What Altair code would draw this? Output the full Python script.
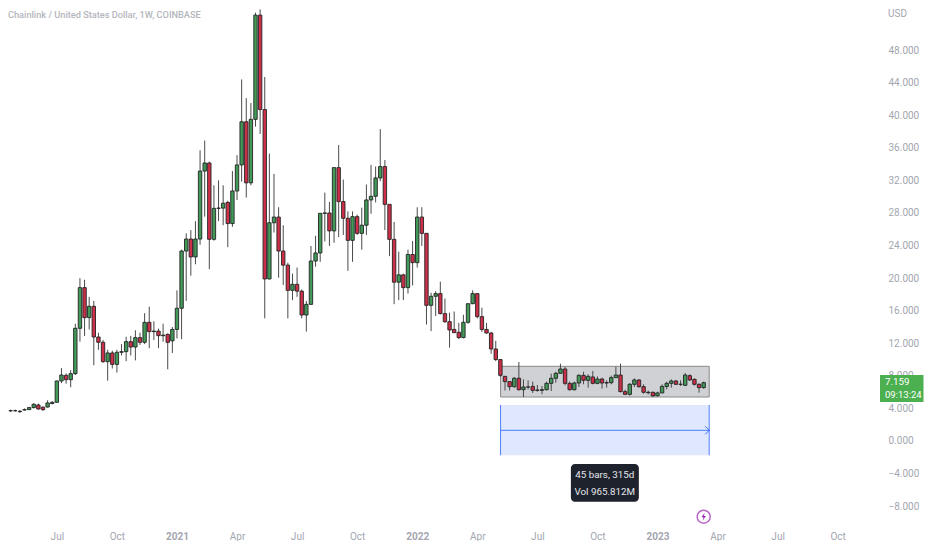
import altair as alt
import pandas as pd

# Weekly candles, weeks counted from the first visible bar (week 0 = 2020-04-27)
first_week = pd.Timestamp("2020-04-27")
opens = [3.7,3.72,3.6,3.8,3.85,4.1,4.42,4.15,4.17,4.6,
4.75,7.37,8.06,7.53,8.27,13.84,18.83,15.15,16.54,12.77,12.12,9.74,10.81,9.41,10.89,10.97,12.2,11.54,12.69,12.12,14.57,13.43,13.5,12.93,13.1,12.3,13.7,
16.3,23.33,24.8,22.6,24.8,33.15,34.14,24.77,28.57,28.6,29.3,26.7,30.7,33.9,39.2,31.7,39.5,52.3,40.7,19.9,26.8,27.5,23.33,21.6,18.5,19.24,18.4,15.47,16.78,22.1,23.09,27.96,28,25.8,33.57,
29.4,27.35,24.64,27.55,25.5,26.5,29.6,30.05,32.3,33.7,29.06,24.76,19.5,20.4,18.83,22.9,21.9,27.5,25.5,16.66,17.77,18.1,15.64,14.65,13.7,13.35,12.7,14.57,16.86,18.1,15.27,13.7,13.26,11.3,10.0,
7.94,7.29,6.67,7.7,6.3,6.63,6.7,6.26,6.22,6.3,7.08,7.7,8.31,8.84,7.08,6.3,7.12,8.06,7.45,7.86,7.08,7.61,7.12,7.16,7.78,8.1,6.06,5.73,6.96,7.49,6.67,5.98,5.98,5.55,5.9,6.7,7.08,7.37,6.96,6.84,8.02,7.57,6.96,6.55]
closes = [3.72,3.72,3.65,3.85,4.1,4.5,3.93,3.85,4.67,4.75,
7.37,8.1,7.53,8.27,13.84,18.83,15.15,16.54,12.77,12.12,9.74,10.81,9.41,10.89,10.97,12.2,11.54,12.69,12.12,14.57,13.43,13.5,12.93,13.0,12.12,13.7,16.3,
23.33,24.8,22.6,24.8,33.15,34.14,24.77,28.57,28.6,29.2,26.7,30.7,33.9,39.2,31.7,39.5,52.3,40.7,19.9,26.8,27.5,23.33,21.6,18.5,19.24,18.4,15.47,16.78,22.1,23.09,27.96,28,25.8,33.57,29.4,
27.35,24.64,27.55,25.5,26.5,29.6,30.05,32.3,33.7,29.06,24.76,19.5,20.4,18.83,22.9,21.9,27.5,25.5,16.66,17.77,18.1,15.64,14.65,13.63,13.3,12.7,14.57,16.86,18.1,15.27,13.7,13.26,11.3,10.0,8.06,
7.29,6.67,7.7,6.3,6.63,6.63,6.22,6.22,6.3,7.08,7.7,8.31,8.84,7.08,6.3,7.12,8.06,7.45,7.94,7.08,7.61,7.12,7.16,7.78,8.1,6.06,5.73,6.96,7.49,6.67,5.98,5.93,5.53,5.9,6.7,7.08,7.37,6.96,6.96,8.1,7.49,6.96,6.55,7.159]
highs = [3.85,3.85,3.8,4.0,4.2,4.65,4.6,4.25,5.0,4.9,
7.4,8.95,8.3,8.7,14.4,20.0,19.8,17.7,17.2,13.3,12.4,11.2,11.1,11.2,11.9,12.8,12.9,13.6,13.3,15.7,16.5,14.7,13.8,14.4,13.2,14.0,18.5,
23.5,25.5,25.9,27.0,35.7,36.9,34.3,31.4,32.0,31.4,29.5,33.15,35.1,44.4,42.1,41.5,52.6,53.0,44.7,35.3,32.8,28.7,26.5,21.9,20.55,21.3,18.6,17.2,23.95,25.2,27.96,30.5,29.35,33.57,36.35,
32.1,28.2,28.2,27.8,28.65,31.5,33.9,33.7,38.3,34.5,29.06,26.9,23.25,20.55,23.5,24.56,28.7,28.7,25.5,18.2,18.4,19.57,17.5,15.76,15.9,14.5,15.5,16.86,18.5,18.1,16.37,14.5,13.4,12.3,10.0,
7.94,7.29,7.86,9.7,7.57,7.45,7.29,6.88,6.75,7.29,8.27,8.5,9.5,9.09,7.29,7.29,8.19,8.5,8.19,8.6,7.94,7.78,7.45,8.02,9.13,9.5,6.3,7.12,7.7,7.61,6.96,6.2,6.06,6.06,6.96,7.29,7.57,7.49,7.45,8.35,8.19,7.7,7.08,7.29]
lows = [3.6,3.6,3.45,3.75,3.8,4.0,3.85,3.7,4.1,4.5,
4.7,7.1,7.04,6.6,8.1,12.2,12.9,13.7,9.3,11.2,9.6,7.4,8.9,8.4,10.5,9.8,10.5,9.9,11.8,11.9,11.4,12.4,11.4,12.2,8.8,10.8,12.6,
12.5,17.2,20.3,21.7,24.1,27.55,21.1,24.6,27.0,26.5,23.8,26.3,29.6,31.85,29.9,31.4,38.6,37.7,15.06,19.85,25.6,20.05,19.16,15.06,17.3,17.7,15.06,13.43,16.7,21.4,22.0,24.5,23.95,24.35,25.05,
25.3,20.9,22.0,25.3,23.5,25.3,27.9,29.3,31.9,25.9,22.7,16.8,17.3,17.3,18.1,19.1,21.3,23.95,14.3,13.5,15.35,15.55,14.5,11.46,13.26,12.5,12.6,14.4,16.8,15.06,13.4,13.18,10.7,9.8,7.86,
6.2,6.2,6.55,6.2,5.4,6.34,5.9,6.06,5.73,6.2,6.14,7.16,8.27,6.84,6.2,6.2,6.63,6.96,6.55,6.96,6.96,6.43,6.55,6.96,7.78,5.98,5.65,5.57,6.63,6.55,5.81,5.73,5.44,5.49,5.9,6.34,6.55,6.88,6.75,6.75,7.37,6.8,5.93,6.43]

price_ticks = list(range(-8, 49, 4))
date_ticks = [(2020,7,6),(2020,10,5),(2021,1,4),(2021,4,5),(2021,7,5),(2021,10,4),(2022,1,3),
              (2022,4,4),(2022,7,4),(2022,10,3),(2023,1,2),(2023,4,3),(2023,7,3),(2023,10,2)]

n = min(len(opens), len(closes), len(highs), len(lows))
df = pd.DataFrame({"date": [first_week + pd.Timedelta(weeks=i) for i in range(n)],
                   "open": opens[:n], "close": closes[:n], "high": highs[:n], "low": lows[:n]})
df["dir"] = ["up" if c >= o else "down" for o, c in zip(df.open, df.close)]

def wk(k):
    return pd.Timestamp("2020-07-06") + pd.Timedelta(days=k * 7)

def dt(y, m, d):
    return alt.DateTime(year=y, month=m, date=d)

W, H = 862, 517
xscale = alt.Scale(domain=[dt(2020,4,23), dt(2023,11,20)], padding=0)
yscale = alt.Scale(domain=[-10.44, 53.05], nice=False, zero=False, padding=0)

AX = "Roboto"
x_axis = alt.Axis(values=[dt(*t) for t in date_ticks], title=None, grid=False, domain=False, ticks=False,
                  labelExpr="month(datum.value)==0 ? timeFormat(datum.value,'%Y') : timeFormat(datum.value,'%b')",
                  labelFontWeight={"condition": {"test": "month(datum.value)==0", "value": "bold"}, "value": "normal"},
                  labelFont=AX, labelFontSize=10, labelColor="#a3a6af", labelPadding=5, labelOverlap=False, labelFlush=False)
y_axis = alt.Axis(values=price_ticks, orient="right", format=".3f", title=None, grid=False, domain=False, ticks=False,
                  labelFont=AX, labelFontSize=10, labelColor="#a3a6af", labelPadding=18, labelOverlap=False, labelFlush=False)

def xx(f="a"):
    return alt.X(f"{f}:T", scale=xscale, axis=x_axis, title=None)
def yy(f="y"):
    return alt.Y(f"{f}:Q", scale=yscale, axis=y_axis, title=None)

# price-range box (behind candles)
box_k = (96.04, 141.2)
gray = pd.DataFrame({"a": [wk(box_k[0])], "b": [wk(box_k[1])], "y": [9.17], "y2": [5.4]})
gray_l = alt.Chart(gray).mark_rect(fill="#787b86", fillOpacity=0.35, stroke="#8a8a8a", strokeWidth=1).encode(
    x=xx("a"), x2="b:T", y=yy("y"), y2="y2:Q")

# measured range
blue = pd.DataFrame({"a": [wk(box_k[0])], "b": [wk(box_k[1])], "y": [4.42], "y2": [-1.76], "m": [1.31]})
blue_rect = alt.Chart(blue).mark_rect(fill="#2962ff", fillOpacity=0.15).encode(x=xx("a"), x2="b:T", y=yy("y"), y2="y2:Q")
blue_l = alt.Chart(blue).mark_rule(color="#2962ff", strokeWidth=1, opacity=0.8).encode(x=xx("a"), y=yy("y"), y2="y2:Q")
blue_r = alt.Chart(blue).mark_rule(color="#2962ff", strokeWidth=1, opacity=0.8).encode(x=xx("b"), y=yy("y"), y2="y2:Q")
blue_m = alt.Chart(blue).mark_rule(color="#2962ff", strokeWidth=1, opacity=0.8).encode(x=xx("a"), x2="b:T", y=yy("m"))
blue_arrow = alt.Chart(blue).mark_point(shape="M-1,-1L0,0L-1,1", size=64, filled=False, stroke="#2962ff", strokeWidth=1, opacity=0.9).encode(
    x=xx("b"), y=yy("m"))

# candles
color = alt.Color("dir:N", scale=alt.Scale(domain=["up", "down"], range=["#419a58", "#cf3049"]), legend=None)
wicks = alt.Chart(df).mark_rule(color="#4a4a4a", strokeWidth=1).encode(
    x=xx("date"), y=yy("high"), y2="low:Q")
bodies = alt.Chart(df).mark_bar(size=3.4, stroke="#222222", strokeWidth=0.9).encode(
    x=xx("date"), y=yy("open"), y2="close:Q", color=color)

# bars tooltip
tip = pd.DataFrame({"a": [wk(111.26)], "b": [wk(125.97)], "y": [-2.82], "y2": [-7.45]})
tip_r = alt.Chart(tip).mark_rect(fill="#1e222d", cornerRadius=4).encode(x=xx("a"), x2="b:T", y=yy("y"), y2="y2:Q")
tip_text = pd.DataFrame({"a": [wk(118.6), wk(118.6)], "y": [-4.18, -6.26], "t": ["45 bars, 315d", "Vol 965.812M"]})
tip_t = alt.Chart(tip_text).mark_text(font="Roboto", fontSize=9.8, color="#e6e8ee", baseline="middle").encode(
    x=xx("a"), y=yy("y"), text="t:N")

# flash icon
icon = pd.DataFrame({"a": [wk(140)], "y": [-9.3]})
icon_c = alt.Chart(icon).mark_point(shape="circle", size=170, filled=False, stroke="#9c27b0", strokeWidth=1.5).encode(x=xx("a"), y=yy("y"))
icon_b = alt.Chart(icon).mark_point(shape="M0.25,-1L-0.55,0.15L-0.05,0.15L-0.25,1L0.55,-0.15L0.05,-0.15Z", size=64, filled=True,
                                    fill="#9c27b0", opacity=1).encode(x=xx("a"), y=yy("y"))

# static page text
def label(txt, x, y, baseline="middle", **kw):
    return alt.Chart(pd.DataFrame({"t": [txt]})).mark_text(align="left", baseline=baseline, **kw).encode(
        x=alt.value(x), y=alt.value(y), text="t:N")

title = label("Chainlink / United States Dollar, 1W, COINBASE", 0, 6, font="Roboto", fontSize=9.2, fontWeight=500, color="#b4b6bc")
usd = label("USD", 880, 0, baseline="top", font=AX, fontSize=10, color="#a3a6af")

price_box = alt.Chart(pd.DataFrame({"v": [1]})).mark_rect(fill="#4caf50").encode(
    x=alt.value(872), x2=alt.value(915.5), y=alt.value(366), y2=alt.value(393))
price_t = label("7.159", 877, 373, font=AX, fontSize=9.8, color="#ffffff")
clock_t = label("09:13:24", 877, 386, font=AX, fontSize=9.5, color="#ffffff")

chart = alt.layer(
    gray_l, wicks, bodies, blue_rect, blue_l, blue_r, blue_m, blue_arrow, tip_r, tip_t,
    icon_c, icon_b, title, usd, price_box, price_t, clock_t
).resolve_scale(x="shared", y="shared").properties(
    width=W, height=H, padding=0, background="white"
).configure_view(stroke=None)

chart.save("out.html", embed_options={"renderer": "svg", "actions": False})
